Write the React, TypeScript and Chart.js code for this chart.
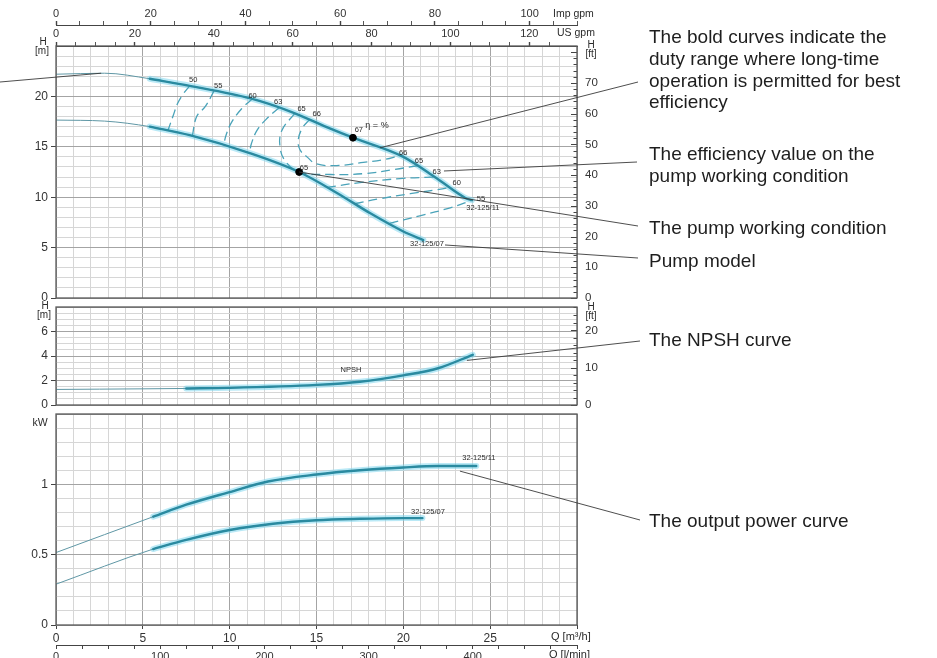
import React, { useEffect, useRef } from 'react';
import { Chart, registerables } from 'chart.js';

Chart.register(...registerables);

const FONT = '"Liberation Sans", Arial, Helvetica, sans-serif';
Chart.defaults.font.family = FONT;
Chart.defaults.color = '#333';

// ---------------- data ----------------
const Q_MAX = 30; // m3/h
const IMP_GPM_MAX = 110.0;
const US_GPM_MAX = 132.09;
const LMIN_MAX = 500;
const H_MAX = 25;
const H_FT_MAX = 82.02;
const NPSH_MAX = 8;
const NPSH_FT_MAX = 26.25;
const KW_MAX = 1.5;

// Head curves H [m] vs Q [m3/h]
const Q_H11 = [0, 2.8, 5.4, 7.7, 11.2, 13.5, 15.8, 17.1, 20.0, 21.9, 23.6, 23.95];
const H_11 = [22.2, 22.3, 21.75, 21.05, 19.8, 18.5, 16.8, 15.9, 14.0, 11.9, 9.9, 9.7];
const Q_H07 = [0, 2.8, 5.4, 7.7, 11.2, 14.0, 16.2, 18.1, 20.0, 21.15];
const H_07 = [17.65, 17.55, 17.0, 16.15, 14.35, 12.5, 10.4, 8.4, 6.6, 5.75];
const BOLD_FROM_H = 5.4;

// NPSH [m]
const Q_NPSH = [0, 5, 7.5, 10, 15, 17.5, 20, 22, 24.0];
const NPSH = [1.27, 1.32, 1.35, 1.4, 1.64, 1.9, 2.42, 3.0, 4.1];
const BOLD_FROM_NPSH = 7.5;

// Power [kW]
const Q_P11 = [0, 5.6, 7.5, 10, 12.2, 15, 17.5, 20, 22, 24.2];
const P_11 = [0.515, 0.77, 0.855, 0.945, 1.02, 1.07, 1.1, 1.12, 1.13, 1.13];
const Q_P07 = [0, 5.6, 7.5, 10, 12.5, 15, 17.5, 20, 21.1];
const P_07 = [0.29, 0.54, 0.605, 0.675, 0.72, 0.745, 0.755, 0.76, 0.76];
const BOLD_FROM_P = 5.6;

// Working points
const POINT_11 = [17.1, 15.9];
const POINT_07 = [14.0, 12.5];

// Iso-efficiency lines [Q, H]
const ETA50_L = [[7.7, 21.05], [7.35, 20.3], [7.0, 19.3], [6.75, 18.1], [6.45, 16.65]];
const ETA55_L = [[9.1, 20.55], [8.6, 19.0], [8.1, 18.0], [7.85, 16.07]];
const ETA60_L = [[11.3, 19.74], [10.7, 18.8], [10.1, 17.4], [9.8, 16.2], [9.65, 15.15]];
const ETA63_L = [[12.85, 18.87], [12.2, 17.9], [11.6, 16.7], [11.25, 15.3], [11.15, 14.37]];
const ETA65 = [[13.75, 18.32], [13.0, 16.6], [12.9, 15.0], [13.2, 13.6], [14.0, 12.5], [15.8, 12.25], [17.8, 12.35], [19.5, 12.75], [20.8, 13.12]];
const ETA66 = [[14.6, 17.69], [14.2, 16.9], [13.95, 15.7], [14.05, 14.7], [14.45, 14.0], [15.0, 13.3], [16.3, 13.15], [17.7, 13.45], [18.8, 13.7], [19.8, 14.13]];
const ETA63_R = [[15.6, 10.97], [17.5, 11.45], [19.8, 11.85], [21.8, 12.0]];
const ETA60_R = [[17.2, 9.35], [18.65, 9.85], [20.4, 10.35], [21.8, 10.7], [22.7, 10.96]];
const ETA55_R = [[19.2, 7.4], [20.95, 8.15], [22.7, 8.95], [23.95, 9.7]];

// Efficiency labels
const ETA_TEXT = ['50', '55', '60', '63', '65', '66', '67', '66', '65', '63', '60', '55', '65'];
const ETA_Q = [7.9, 9.34, 11.32, 12.8, 14.14, 15.01, 17.44, 19.99, 20.9, 21.92, 23.07, 24.47, 14.28];
const ETA_H = [21.63, 21.07, 20.07, 19.41, 18.75, 18.22, 16.67, 14.35, 13.59, 12.5, 11.38, 9.82, 12.87];

// ---------------- styles ----------------
const GRID_MINOR = '#d6d6d6';
const GRID_MAJOR = '#a4a4a4';
const FRAME = '#5a5a5a';
const AXIS = '#444';
const TEAL = '#2a8aa0';
const TEAL_THIN = '#5f97a5';
const HALO = 'rgba(130,215,238,0.55)';
const DASH = '#4aa3b9';
const NOTE = '#1e1e1e';

const near = (v: number, m: number) => Math.abs(v / m - Math.round(v / m)) < 1e-6;
const fmt = (v: number) => String(Math.round(v * 10) / 10);
const xy = (qs: number[], vs: number[]) => qs.map((q, i) => ({ x: q, y: vs[i] }));
const pairs = (a: number[][]) => a.map(([x, y]) => ({ x, y }));
const from = (qs: number[], vs: number[], q0: number) => xy(qs, vs).filter((p) => p.x >= q0 - 1e-9);

const fixH = (h: number) => (s: any) => { s.height = h; s.paddingLeft = 0; s.paddingRight = 0; };
const fixW = (w: number) => (s: any) => { s.width = w; s.paddingTop = 0; s.paddingBottom = 0; };

function curve(data: any[], yAxisID: string, kind: 'thin' | 'bold' | 'halo') {
  const st = kind === 'bold' ? { c: TEAL, w: 2.4, o: 2 } : kind === 'halo' ? { c: HALO, w: 6, o: 6 } : { c: TEAL_THIN, w: 1, o: 4 };
  return {
    data, yAxisID, xAxisID: 'x', borderColor: st.c, borderWidth: st.w, order: st.o,
    pointRadius: 0, fill: false, cubicInterpolationMode: 'monotone', borderCapStyle: 'round',
  };
}
function dashed(data: any[]) {
  return {
    data, yAxisID: 'y', xAxisID: 'x', borderColor: DASH, borderWidth: 1.3, borderDash: [9, 5],
    order: 3, pointRadius: 0, fill: false, tension: 0.4,
  };
}
function dot(p: number[]) {
  return {
    data: [{ x: p[0], y: p[1] }], yAxisID: 'y', xAxisID: 'x', showLine: false, order: 1,
    pointRadius: 3.4, pointBackgroundColor: '#000', pointBorderColor: '#000',
  };
}

function gridX(labels: boolean, height: number) {
  return {
    type: 'linear', position: 'bottom', min: 0, max: Q_MAX, weight: 0,
    ticks: {
      stepSize: 1, display: labels, autoSkip: false, maxRotation: 0, minRotation: 0, padding: 2,
      font: { size: 12 }, color: '#333',
      callback: (v: number) => (near(v, 5) && v < Q_MAX ? fmt(v) : ''),
    },
    grid: {
      color: (c: any) => (c.tick && near(c.tick.value, 5) ? GRID_MAJOR : GRID_MINOR),
      drawTicks: labels, tickLength: 4,
      tickColor: (c: any) => (c.tick && near(c.tick.value, 5) ? AXIS : 'transparent'),
    },
    border: { display: false },
    afterFit: fixH(height),
  };
}
function yLeft(max: number, step: number, major: number, show: (v: number) => boolean) {
  return {
    type: 'linear', position: 'left', min: 0, max,
    ticks: { stepSize: step, autoSkip: false, padding: 3, font: { size: 12 }, color: '#333', callback: (v: number) => (show(v) ? fmt(v) : '') },
    grid: {
      color: (c: any) => (c.tick && near(c.tick.value, major) ? GRID_MAJOR : GRID_MINOR),
      tickLength: 5,
      tickColor: (c: any) => (c.tick && show(c.tick.value) ? AXIS : 'transparent'),
    },
    border: { display: false },
    afterFit: fixW(56),
  };
}
function yRight(max: number, labelMax: number) {
  return {
    type: 'linear', position: 'right', min: 0, max,
    ticks: { stepSize: 2, autoSkip: false, padding: 8, font: { size: 11.5 }, color: '#333', callback: (v: number) => (near(v, 10) && v <= labelMax ? fmt(v) : '') },
    grid: { drawOnChartArea: false, drawTicks: false },
    border: { display: false },
    afterFit: fixW(40),
  };
}
function topAxis(max: number, weight: number, height: number, pad: number) {
  return {
    type: 'linear', position: 'top', min: 0, max, weight,
    ticks: { stepSize: 5, autoSkip: false, maxRotation: 0, minRotation: 0, padding: pad, font: { size: 11 }, color: '#333', callback: (v: number) => (near(v, 20) ? fmt(v) : '') },
    grid: {
      drawOnChartArea: false, tickLength: 4,
      tickColor: (c: any) => (c.tick && near(c.tick.value, 5) ? AXIS : 'transparent'),
      tickWidth: (c: any) => (c.tick && near(c.tick.value, 20) ? 1.4 : 0.9),
    },
    border: { display: true, color: AXIS, width: 1 },
    afterFit: fixH(height),
  };
}

type PageText = { t: string; x: number; y: number; size: number; align?: CanvasTextAlign; color?: string };
type DataText = { t: string; q: number; v: number; size: number; axis: string };
type Leader = { q: number; v: number; axis: string; px: number; py: number };
type Spec = { top: number; pageTexts: PageText[]; dataTexts: DataText[]; leaders: Leader[]; ftAxis?: string };

function overlay(spec: Spec) {
  return {
    id: 'overlay',
    afterDraw(chart: any) {
      const { ctx, chartArea: a, scales } = chart;
      ctx.save();
      if (spec.ftAxis) {
        const s = scales[spec.ftAxis];
        ctx.strokeStyle = AXIS;
        ctx.lineWidth = 1;
        s.ticks.forEach((t: any) => {
          const y = Math.round(s.getPixelForValue(t.value)) + 0.5;
          const len = near(t.value, 10) ? 6 : 3.5;
          ctx.beginPath();
          ctx.moveTo(a.right - len, y);
          ctx.lineTo(a.right, y);
          ctx.stroke();
        });
      }
      ctx.strokeStyle = FRAME;
      ctx.lineWidth = 1.3;
      ctx.strokeRect(a.left, a.top, a.right - a.left, a.bottom - a.top);

      ctx.strokeStyle = '#3a3a3a';
      ctx.lineWidth = 0.9;
      spec.leaders.forEach((l) => {
        const x0 = scales.x.getPixelForValue(l.q);
        const y0 = scales[l.axis].getPixelForValue(l.v);
        ctx.beginPath();
        ctx.moveTo(x0, y0);
        ctx.lineTo(l.px, l.py - spec.top);
        ctx.stroke();
      });

      ctx.fillStyle = '#2b2b2b';
      ctx.textAlign = 'center';
      ctx.textBaseline = 'middle';
      spec.dataTexts.forEach((d) => {
        ctx.font = `${d.size}px ${FONT}`;
        ctx.fillText(d.t, scales.x.getPixelForValue(d.q), scales[d.axis].getPixelForValue(d.v));
      });

      spec.pageTexts.forEach((p) => {
        ctx.font = `${p.size}px ${FONT}`;
        ctx.textAlign = p.align || 'left';
        ctx.fillStyle = p.color || '#2a2a2a';
        ctx.fillText(p.t, p.x, p.y - spec.top);
      });
      ctx.restore();
    },
  };
}

const noteLines = (lines: string[], x: number, y0: number): PageText[] =>
  lines.map((t, i) => ({ t, x, y: y0 + i * 21.7, size: 19, color: NOTE }));

const baseOptions = (padTop: number, padRight: number) => ({
  responsive: false,
  maintainAspectRatio: false,
  animation: false,
  devicePixelRatio: 1,
  events: [],
  layout: { padding: { top: padTop, right: padRight, left: 0, bottom: 0 } },
  plugins: { legend: { display: false }, tooltip: { enabled: false } },
});

const TOP_CANVAS = 0;
const MID_CANVAS = 298;
const BOT_CANVAS = 405;

function topConfig(): any {
  const spec: Spec = {
    top: TOP_CANVAS,
    ftAxis: 'yft',
    pageTexts: [
      ...noteLines(['The bold curves indicate the', 'duty range where long-time', 'operation is permitted for best', 'efficiency'], 649, 38),
      ...noteLines(['The efficiency value on the', 'pump working condition'], 649, 155),
      ...noteLines(['The pump working condition'], 649, 229),
      ...noteLines(['Pump model'], 649, 262),
      { t: 'Imp gpm', x: 553, y: 14, size: 10.5 },
      { t: 'US gpm', x: 557, y: 33, size: 10.5 },
      { t: 'H', x: 43, y: 42, size: 10, align: 'center' },
      { t: '[m]', x: 42, y: 51, size: 10, align: 'center' },
      { t: 'H', x: 591, y: 45, size: 10, align: 'center' },
      { t: '[ft]', x: 591, y: 54, size: 10, align: 'center' },
      { t: 'η = %', x: 377, y: 126, size: 9, align: 'center' },
    ],
    dataTexts: [
      ...ETA_TEXT.map((t, i) => ({ t, q: ETA_Q[i], v: ETA_H[i], size: 7.5, axis: 'y' })),
      { t: '32-125/11', q: 24.58, v: 8.93, size: 7.5, axis: 'y' },
      { t: '32-125/07', q: 21.36, v: 5.36, size: 7.5, axis: 'y' },
    ],
    leaders: [
      { q: 2.6, v: 22.3, axis: 'y', px: 0, py: 82 },
      { q: 18.65, v: 14.9, axis: 'y', px: 638, py: 82 },
      { q: 22.34, v: 12.6, axis: 'y', px: 637, py: 162 },
      { q: POINT_07[0], v: POINT_07[1], axis: 'y', px: 638, py: 226 },
      { q: 22.4, v: 5.26, axis: 'y', px: 638, py: 258 },
    ],
  };
  return {
    type: 'line',
    data: {
      datasets: [
        curve(from(Q_H11, H_11, BOLD_FROM_H), 'y', 'halo'),
        curve(from(Q_H07, H_07, BOLD_FROM_H), 'y', 'halo'),
        curve(xy(Q_H11, H_11), 'y', 'thin'),
        curve(xy(Q_H07, H_07), 'y', 'thin'),
        dashed(pairs(ETA50_L)),
        dashed(pairs(ETA55_L)),
        dashed(pairs(ETA60_L)),
        dashed(pairs(ETA63_L)),
        dashed(pairs(ETA65)),
        dashed(pairs(ETA66)),
        dashed(pairs(ETA63_R)),
        dashed(pairs(ETA60_R)),
        dashed(pairs(ETA55_R)),
        curve(from(Q_H11, H_11, BOLD_FROM_H), 'y', 'bold'),
        curve(from(Q_H07, H_07, BOLD_FROM_H), 'y', 'bold'),
        dot(POINT_11),
        dot(POINT_07),
      ],
    },
    options: {
      ...baseOptions(0, 320),
      scales: {
        x: gridX(false, 8),
        imp: topAxis(IMP_GPM_MAX, 2, 25, 0),
        us: topAxis(US_GPM_MAX, 1, 21, 1),
        y: yLeft(H_MAX, 1, 5, (v) => near(v, 5) && v < H_MAX),
        yft: yRight(H_FT_MAX, 70),
      },
    },
    plugins: [overlay(spec)],
  };
}

function midConfig(): any {
  const spec: Spec = {
    top: MID_CANVAS,
    ftAxis: 'yft',
    pageTexts: [
      ...noteLines(['The NPSH curve'], 649, 341),
      { t: 'H', x: 45, y: 306, size: 10, align: 'center' },
      { t: '[m]', x: 44, y: 315, size: 10, align: 'center' },
      { t: 'H', x: 591, y: 307, size: 10, align: 'center' },
      { t: '[ft]', x: 591, y: 316, size: 10, align: 'center' },
    ],
    dataTexts: [{ t: 'NPSH', q: 16.98, v: 2.88, size: 7.5, axis: 'y' }],
    leaders: [{ q: 23.66, v: 3.64, axis: 'y', px: 640, py: 341 }],
  };
  return {
    type: 'line',
    data: {
      datasets: [
        curve(from(Q_NPSH, NPSH, BOLD_FROM_NPSH), 'y', 'halo'),
        curve(xy(Q_NPSH, NPSH), 'y', 'thin'),
        curve(from(Q_NPSH, NPSH, BOLD_FROM_NPSH), 'y', 'bold'),
      ],
    },
    options: {
      ...baseOptions(9, 320),
      scales: {
        x: gridX(false, 8),
        y: yLeft(NPSH_MAX, 0.5, 2, (v) => near(v, 2) && v < NPSH_MAX),
        yft: yRight(NPSH_FT_MAX, 20),
      },
    },
    plugins: [overlay(spec)],
  };
}

function botConfig(): any {
  const spec: Spec = {
    top: BOT_CANVAS,
    pageTexts: [
      ...noteLines(['The output power curve'], 649, 522),
      { t: 'kW', x: 40, y: 423, size: 10.5, align: 'center' },
      { t: 'Q [m³/h]', x: 551, y: 637, size: 11 },
      { t: 'Q [l/min]', x: 549, y: 655, size: 11 },
    ],
    dataTexts: [
      { t: '32-125/11', q: 24.35, v: 1.187, size: 7.5, axis: 'y' },
      { t: '32-125/07', q: 21.42, v: 0.803, size: 7.5, axis: 'y' },
    ],
    leaders: [{ q: 23.26, v: 1.094, axis: 'y', px: 640, py: 520 }],
  };
  return {
    type: 'line',
    data: {
      datasets: [
        curve(from(Q_P11, P_11, BOLD_FROM_P), 'y', 'halo'),
        curve(from(Q_P07, P_07, BOLD_FROM_P), 'y', 'halo'),
        curve(xy(Q_P11, P_11), 'y', 'thin'),
        curve(xy(Q_P07, P_07), 'y', 'thin'),
        curve(from(Q_P11, P_11, BOLD_FROM_P), 'y', 'bold'),
        curve(from(Q_P07, P_07, BOLD_FROM_P), 'y', 'bold'),
      ],
    },
    options: {
      ...baseOptions(9, 360),
      scales: {
        x: gridX(true, 20),
        xl: {
          type: 'linear', position: 'bottom', min: 0, max: LMIN_MAX, weight: 1,
          ticks: { stepSize: 25, autoSkip: false, maxRotation: 0, minRotation: 0, padding: 1, font: { size: 11 }, color: '#333', callback: (v: number) => (near(v, 100) && v < LMIN_MAX ? fmt(v) : '') },
          grid: { drawOnChartArea: false, tickLength: 4, tickColor: AXIS },
          border: { display: true, color: AXIS, width: 1 },
          afterFit: fixH(13),
        },
        y: yLeft(KW_MAX, 0.1, 0.5, (v) => (near(v, 0.5) && v < KW_MAX - 0.01)),
      },
    },
    plugins: [overlay(spec)],
  };
}

export default function App() {
  const topRef = useRef<HTMLCanvasElement>(null);
  const midRef = useRef<HTMLCanvasElement>(null);
  const botRef = useRef<HTMLCanvasElement>(null);

  useEffect(() => {
    const charts = [
      new Chart(topRef.current as HTMLCanvasElement, topConfig()),
      new Chart(midRef.current as HTMLCanvasElement, midConfig()),
      new Chart(botRef.current as HTMLCanvasElement, botConfig()),
    ];
    return () => charts.forEach((c) => c.destroy());
  }, []);

  return (
    <div style={{ position: 'absolute', left: 0, top: 0, width: 937, height: 658, background: '#fff', overflow: 'hidden' }}>
      <canvas ref={topRef} width={937} height={306} style={{ position: 'absolute', left: 0, top: TOP_CANVAS, width: 937, height: 306 }} />
      <canvas ref={midRef} width={937} height={115} style={{ position: 'absolute', left: 0, top: MID_CANVAS, width: 937, height: 115 }} />
      <canvas ref={botRef} width={937} height={253} style={{ position: 'absolute', left: 0, top: BOT_CANVAS, width: 937, height: 253 }} />
    </div>
  );
}
